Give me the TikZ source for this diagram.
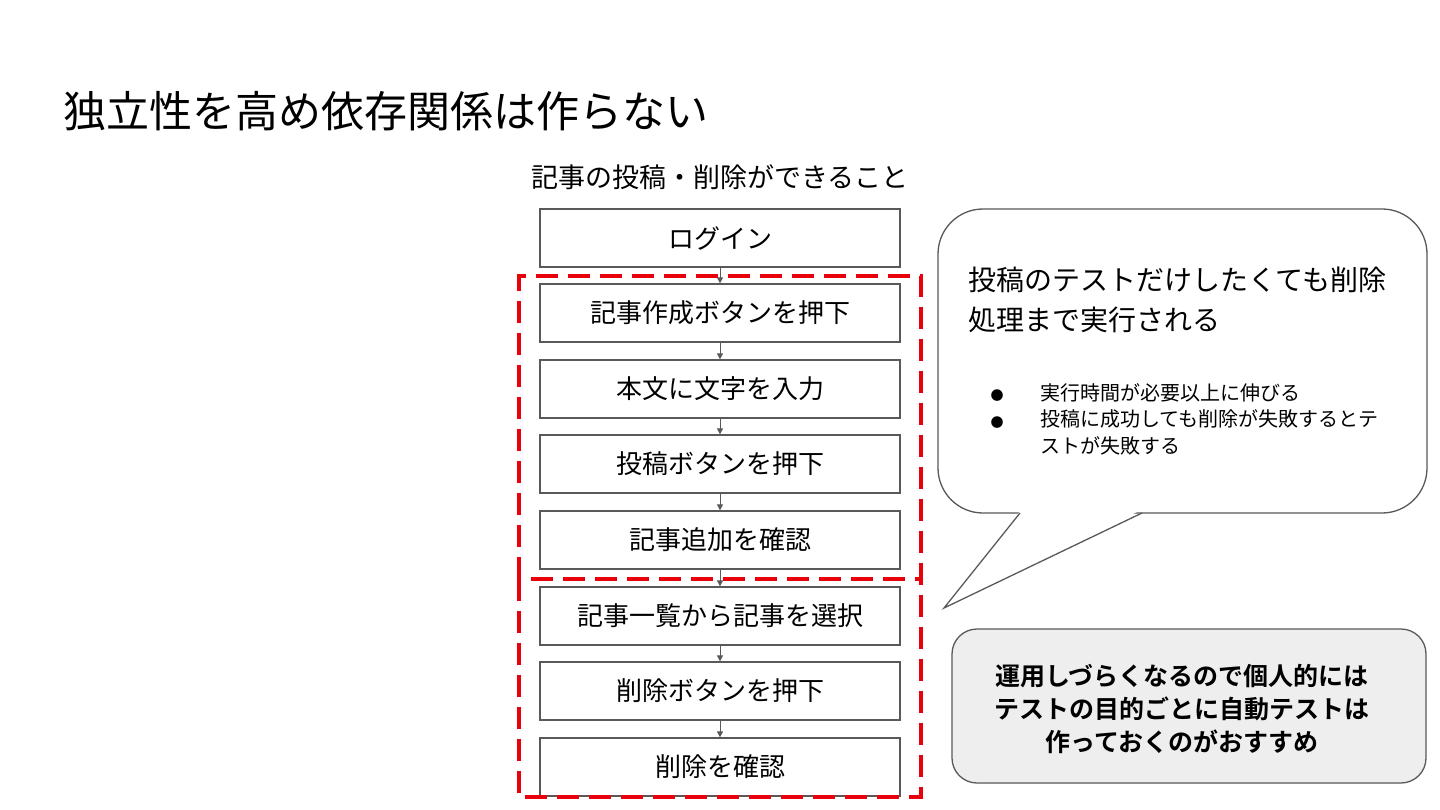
\documentclass[tikz,border=0pt]{standalone}
\usepackage{fontspec}
\setmainfont{Noto Sans CJK JP}[BoldFont={Noto Sans CJK JP Bold}]
\usetikzlibrary{arrows.meta}
\definecolor{boxgray}{HTML}{595959}
\definecolor{dashred}{HTML}{E8000B}
\definecolor{notefill}{HTML}{EEEEEE}
\tikzset{
  stepbox/.style={draw=boxgray, line width=1.3pt, fill=white, minimum width=360, minimum height=58, inner sep=0pt,
    font=\fontsize{26}{30}\selectfont},
  flowarrow/.style={draw=boxgray, line width=1pt, -{Triangle[length=6pt,width=6pt]}},
  redframe/.style={draw=dashred, line width=4.5pt, dash pattern=on 22pt off 10pt},
  bubble/.style={draw=boxgray, line width=1.3pt, fill=white},
}
\begin{document}
\begin{tikzpicture}[x=1pt,y=-1pt]
\useasboundingbox[fill=white] (0,0) rectangle (1440,810);

\node[anchor=west, font=\fontsize{43}{50}\selectfont, inner sep=0pt] (title) at (63,111) {独立性を高め依存関係は作らない};
\node[font=\fontsize{27}{32}\selectfont, inner sep=0pt] (sub) at (720,177) {記事の投稿・削除ができること};

\node[stepbox] (s1) at (720,238) {ログイン};
\node[stepbox] (s2) at (720,313) {記事作成ボタンを押下};
\node[stepbox] (s3) at (720,389) {本文に文字を入力};
\node[stepbox] (s4) at (720,464) {投稿ボタンを押下};
\node[stepbox] (s5) at (720,540) {記事追加を確認};
\node[stepbox] (s6) at (720,616) {記事一覧から記事を選択};
\node[stepbox] (s7) at (720,691) {削除ボタンを押下};
\node[stepbox] (s8) at (720,767) {削除を確認};

\foreach \a/\b in {s1/s2,s2/s3,s3/s4,s4/s5,s5/s6,s6/s7,s7/s8}
  \draw[flowarrow] (\a.south) -- (\b.north);

\coordinate (r1a) at (519,276);
\coordinate (r1b) at (921,276);
\coordinate (r1c) at (921,579);
\coordinate (r1d) at (519,579);
\coordinate (r2c) at (921,797);
\coordinate (r2d) at (519,797);
\draw[redframe] (r1d) -- (r1a) -- (r1b) -- (r1c) -- cycle;
\draw[redframe] (r1d) -- (r2d) -- (r2c) -- (r1c);

% speech bubble
\node[bubble, rounded corners=45, minimum width=489, minimum height=304, inner sep=0pt] (callout) at (1182.5,361) {};
\coordinate (tl) at (1020,513);
\coordinate (tip) at (944,608);
\coordinate (tr) at (1142,513);
\fill[white] (1021,510) -- (tip) -- (1141,510) -- cycle;
\draw[draw=boxgray, line width=1.3pt, line join=miter] (tl) -- (tip) -- (tr);

\node[anchor=west, align=left, inner sep=0pt, font=\fontsize{28}{40}\selectfont] (ctitle) at (968,300)
  {投稿のテストだけしたくても削除\\処理まで実行される};
\node[inner sep=0pt, font=\fontsize{13}{20}\selectfont] (b1) at (997,396) {●};
\node[inner sep=0pt, font=\fontsize{13}{20}\selectfont] (b2) at (997,423) {●};
\node[anchor=north west, align=left, inner sep=0pt, font=\fontsize{20}{26.5}\selectfont] (btext) at (1040,383)
  {実行時間が必要以上に伸びる\\投稿に成功しても削除が失敗するとテ\\ストが失敗する};

% recommendation box
\node[draw=boxgray, line width=1.3pt, fill=notefill, rounded corners=25, minimum width=474, minimum height=154, inner sep=0pt] (note) at (1189,706) {};
\node[align=center, inner sep=0pt, font=\bfseries\fontsize{25}{33}\selectfont] (notetext) at (1182,709)
  {運用しづらくなるので個人的には\\テストの目的ごとに自動テストは\\作っておくのがおすすめ};
\end{tikzpicture}
\end{document}
